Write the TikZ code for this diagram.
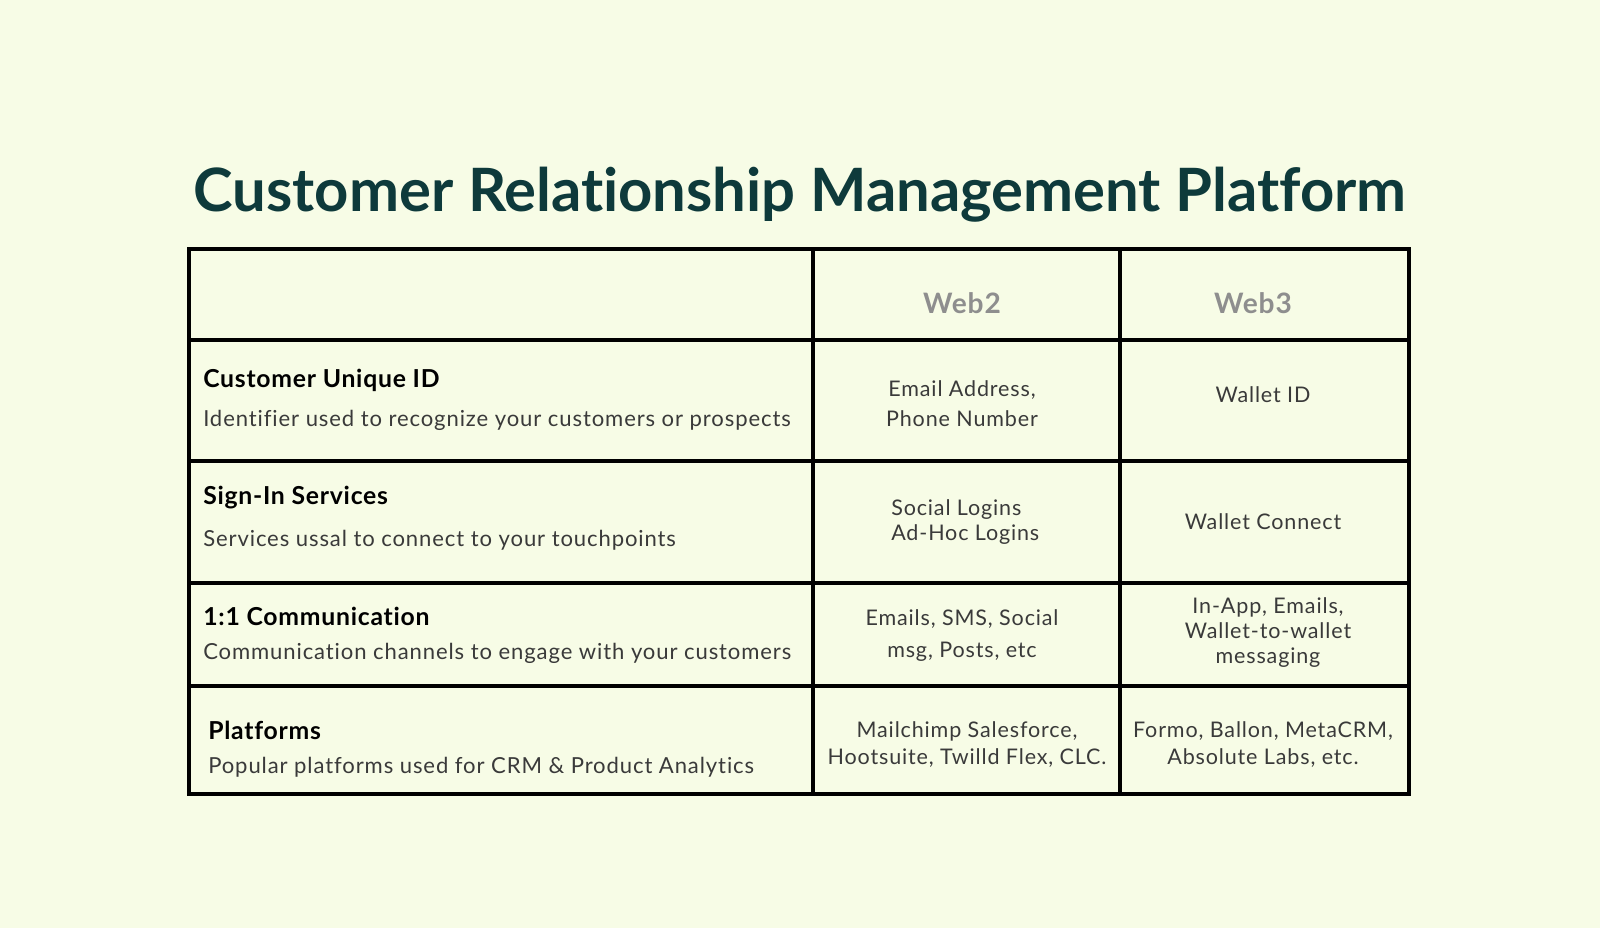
\documentclass[tikz,border=0pt]{standalone}
\usepackage{fontspec}
\setmainfont{Lato}[Ligatures={NoCommon}]
\usetikzlibrary{positioning}
\definecolor{bgcream}{HTML}{F7FCE6}
\definecolor{titleteal}{HTML}{0E3A3B}
\definecolor{headgray}{HTML}{8E8E8E}
\definecolor{bodygray}{HTML}{3A3A3A}
\newcommand{\widetext}[1]{\addfontfeatures{LetterSpace=#1}}
\begin{document}
\begin{tikzpicture}
	[x=0.025cm, y=-0.025cm, inner sep=0pt,
	 grid/.style={line width=2.2pt, black},
	 maintitle/.style={anchor=base, text=titleteal, font=\fontsize{42.5}{48}\selectfont\bfseries},
	 colhead/.style={text=headgray, font=\fontsize{20}{24}\selectfont\bfseries\widetext{3}},
	 rowname/.style={anchor=west, text=black, font=\fontsize{17.6}{21}\selectfont\bfseries\widetext{3}},
	 rowdesc/.style={anchor=west, text=bodygray, font=\fontsize{15.7}{19}\selectfont\widetext{4}},
	 cell/.style={align=center, text=bodygray, font=\fontsize{15.3}{#1}\selectfont\widetext{4}},
	 cell/.default=21]
   \fill[bgcream] (0,0) rectangle (1600,928);
   \node[maintitle] (title) at (800,211) {Customer Relationship Management Platform};
   % table lines
   \draw[grid] (189,249) rectangle (1409,794);
   \foreach \y in {340,461,583,686}
      \draw[grid] (189,\y) -- (1409,\y);
   \foreach \x in {813,1120}
      \draw[grid] (\x,249) -- (\x,794);
   % header
   \node[colhead] (web2) at (962,303) {Web2};
   \node[colhead] (web3) at (1253,303) {Web3};
   % row 1
   \node[rowname] (idname) at (203,380) {Customer Unique ID};
   \node[rowdesc] (iddesc) at (203,420) {Identifier used to recognize your customers or prospects};
   \node[cell=21.3] (idweb2) at (962,404) {Email Address,\\Phone Number};
   \node[cell] (idweb3) at (1263,395) {Wallet ID};
   % row 2
   \node[rowname] (signname) at (203,498) {Sign-In Services};
   \node[rowdesc] (signdesc) at (203,540) {Services ussal to connect to your touchpoints};
   \node[cell=18.2, align=left, anchor=west] (signweb2) at (891,522) {Social Logins\\Ad-Hoc Logins};
   \node[cell] (signweb3) at (1263,522) {Wallet Connect};
   % row 3
   \node[rowname] (commname) at (203,616) {1:1 Communication};
   \node[rowdesc] (commdesc) at (203,653) {Communication channels to engage with your customers};
   \node[cell=22.8] (commweb2) at (962,636) {Emails, SMS, Social\\msg, Posts, etc};
   \node[cell=17.8] (commweb3) at (1268,633) {In-App, Emails,\\Wallet-to-wallet\\messaging};
   % row 4
   \node[rowname] (platname) at (208,730) {Platforms};
   \node[rowdesc] (platdesc) at (208,767) {Popular platforms used for CRM \& Product Analytics};
   \node[cell=19.2] (platweb2) at (967,745) {Mailchimp Salesforce,\\Hootsuite, Twilld Flex, CLC.};
   \node[cell=19.2] (platweb3) at (1263,745) {Formo, Ballon, MetaCRM,\\Absolute Labs, etc.};
\end{tikzpicture}
\end{document}
